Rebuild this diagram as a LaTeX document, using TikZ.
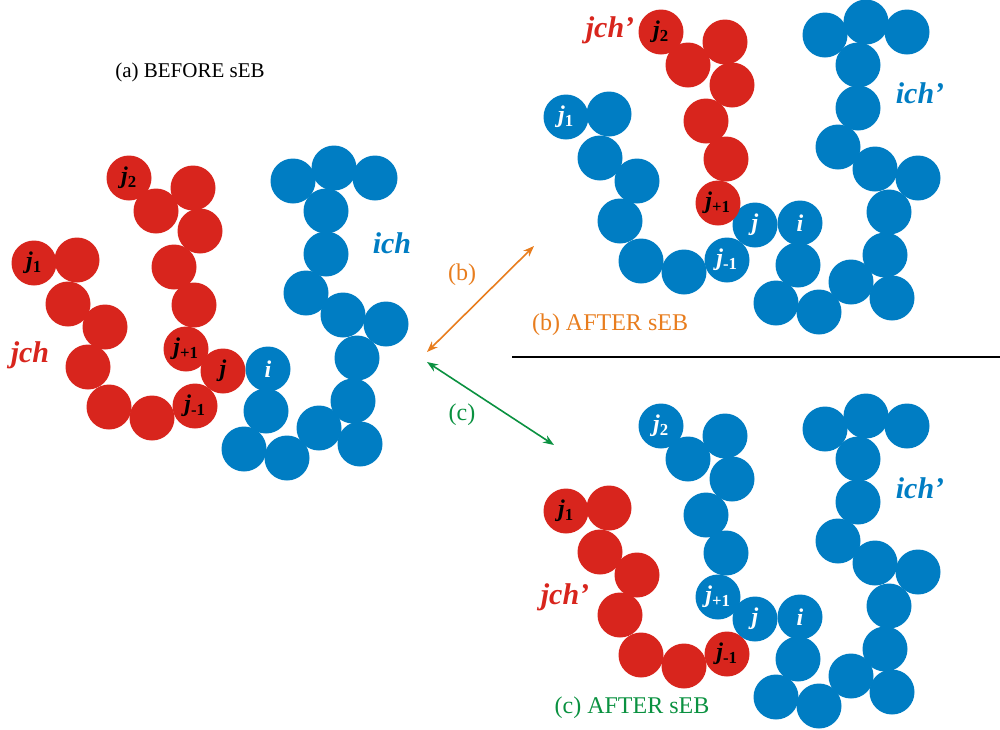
\documentclass[tikz,border=0pt]{standalone}
\usepackage{fontspec}
\setmainfont{Liberation Serif}
\usetikzlibrary{arrows.meta}
\definecolor{beadred}{RGB}{216,37,29}
\definecolor{beadblue}{RGB}{0,125,195}
\definecolor{sebor}{RGB}{232,125,30}
\definecolor{sebgr}{RGB}{10,145,64}
% bead label: bold italic j with subscript
\newcommand\jl[1]{\textbf{\textit{j}}\textsubscript{\textbf{#1}}}
% chains, written in the frame of panel (b)
\def\chainlow{(566,117),(609,114),(600,158),(637,181),(620,221),(641,261),(684,272),(727,260)}
\def\chainup{(718,203),(726,159),(706,121),(732,85),(725,42),(688,65),(661,32)}
\def\chainich{(800,223),(798,265),(776,303),(819,312),(851,282),(892,298),(885,255),(889,212),(918,178),(875,169),(838,147),(858,108),(858,65),(825,35),(866,22),(907,32)}
\newcommand\beads[2]{\foreach \p in #2 \fill[#1] \p circle[radius=22.5pt];}
\tikzset{
  inred/.style={text=black,font=\fontsize{24}{24}\selectfont},
  inblue/.style={text=white,font=\fontsize{24}{24}\selectfont},
  chname/.style={font=\fontsize{30}{30}\selectfont\bfseries\itshape},
  title/.style={font=\fontsize{24}{28}\selectfont},
}
\begin{document}
\begin{tikzpicture}[x=1pt,y=-1pt]
\useasboundingbox (0,0) rectangle (1000,729);
% (a) before
\begin{scope}[shift={(-532,146)}]
  \beads{beadred}{\chainlow}
  \beads{beadred}{\chainup}
  \fill[beadred] (755,225) circle[radius=22.5pt];
  \beads{beadblue}{\chainich}
  \node[inred] (a-j1) at (566,117) {\jl{1}};
  \node[inred] (a-j2) at (661,32) {\jl{2}};
  \node[inred] (a-jm) at (727,260) {\jl{-1}};
  \node[inred] (a-jp) at (718,203) {\jl{+1}};
  \node[inred] (a-j) at (755,225) {\textbf{\textit{j}}};
  \node[inblue] (a-i) at (800,223) {\textbf{\textit{i}}};
\end{scope}
\node[chname,text=beadred] (a-jch) at (30,355) {jch};
\node[chname,text=beadblue] (a-ich) at (392,243) {ich};
\node[title,font=\fontsize{21}{24}\selectfont] (a-title) at (190,72) {(a) BEFORE sEB};
% (b) after
\beads{beadblue}{\chainlow}
\fill[beadblue] (755,225) circle[radius=22.5pt];
\beads{beadred}{\chainup}
\beads{beadblue}{\chainich}
\node[inblue] (b-j1) at (566,117) {\jl{1}};
\node[inred] (b-j2) at (661,32) {\jl{2}};
\node[inblue] (b-jm) at (727,260) {\jl{-1}};
\node[inred] (b-jp) at (718,203) {\jl{+1}};
\node[inblue] (b-j) at (755,225) {\textbf{\textit{j}}};
\node[inblue] (b-i) at (800,223) {\textbf{\textit{i}}};
\node[chname,text=beadred] (b-jch) at (610,30) {jch’};
\node[chname,text=beadblue] (b-ich) at (920,93) {ich’};
\node[title,text=sebor] (b-title) at (610,325) {(b) AFTER sEB};
% (c) after
\begin{scope}[shift={(0,394)}]
  \beads{beadred}{\chainlow}
  \fill[beadblue] (755,225) circle[radius=22.5pt];
  \beads{beadblue}{\chainup}
  \beads{beadblue}{\chainich}
  \node[inred] (c-j1) at (566,117) {\jl{1}};
  \node[inblue] (c-j2) at (661,32) {\jl{2}};
  \node[inred] (c-jm) at (727,260) {\jl{-1}};
  \node[inblue] (c-jp) at (718,203) {\jl{+1}};
  \node[inblue] (c-j) at (755,225) {\textbf{\textit{j}}};
  \node[inblue] (c-i) at (800,223) {\textbf{\textit{i}}};
\end{scope}
\node[chname,text=beadred] (c-jch) at (565,597) {jch’};
\node[chname,text=beadblue] (c-ich) at (920,488) {ich’};
\node[title,text=sebgr] (c-title) at (632,708) {(c) AFTER sEB};
% exchange arrows
\coordinate (hub-b) at (427,352);
\coordinate (hub-c) at (427,362);
\coordinate (to-b) at (534,246);
\coordinate (to-c) at (554,445);
\draw[sebor,line width=1.6pt,{Stealth[length=11pt]}-{Stealth[length=11pt]}] (hub-b) -- (to-b);
\draw[sebgr,line width=1.6pt,{Stealth[length=11pt]}-{Stealth[length=11pt]}] (hub-c) -- (to-c);
\node[title,text=sebor] (lab-b) at (462,275) {(b)};
\node[title,text=sebgr] (lab-c) at (462,415) {(c)};
% divider
\coordinate (div-l) at (512,357);
\coordinate (div-r) at (1000,357);
\draw[line width=1.8pt] (div-l) -- (div-r);
\end{tikzpicture}
\end{document}
